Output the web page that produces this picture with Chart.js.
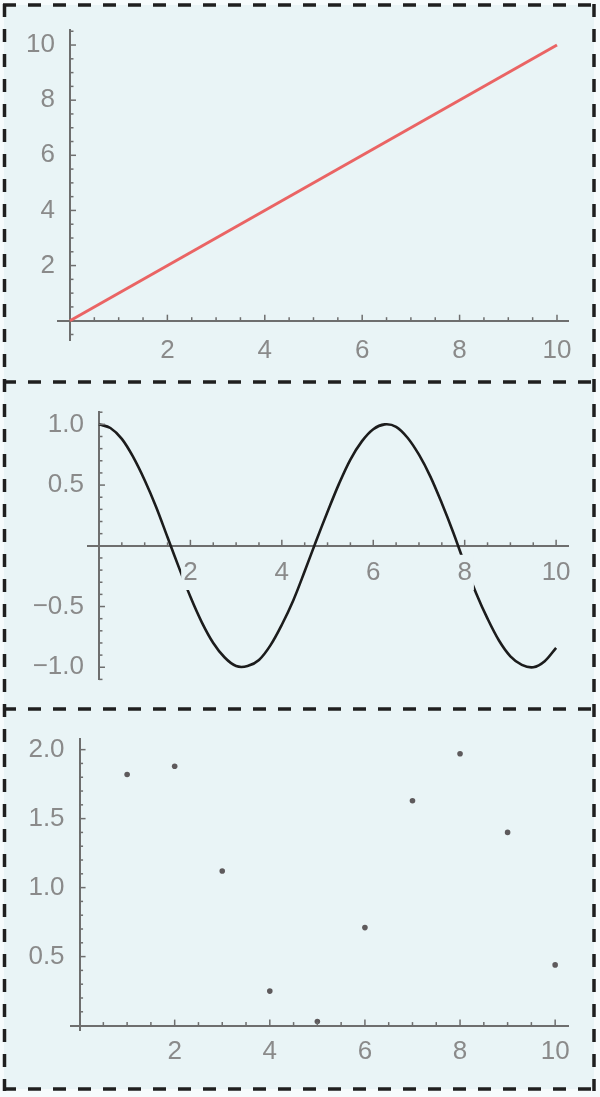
<!DOCTYPE html>
<html>
<head>
<meta charset="utf-8">
<script src="https://cdn.jsdelivr.net/npm/chart.js@4/dist/chart.umd.min.js"></script>
<style>
html, body { margin: 0; padding: 0; background: #f6fbfc; width: 600px; height: 1097px; overflow: hidden; }
#frame { position: absolute; left: 4px; top: 5px; width: 590px; height: 1084px; background: #e9f4f6; }
canvas { position: absolute; left: 0; }
#c1 { top: 0; }
#c2 { top: 382px; }
#c3 { top: 709px; }
svg { position: absolute; left: 0; top: 0; }
</style>
</head>
<body>
<div id="frame"></div>
<canvas id="c1" width="600" height="382"></canvas>
<canvas id="c2" width="600" height="327"></canvas>
<canvas id="c3" width="600" height="388"></canvas>
<svg width="600" height="1097">
  <g stroke="#1f1f1f" stroke-width="3.5" stroke-dasharray="13 12" fill="none">
    <line x1="3" y1="5" x2="596" y2="5"/>
    <line x1="3" y1="382" x2="596" y2="382"/>
    <line x1="3" y1="709" x2="596" y2="709"/>
    <line x1="3" y1="1089" x2="596" y2="1089"/>
    <line x1="4.5" y1="4" x2="4.5" y2="1091"/>
    <line x1="594" y1="4" x2="594" y2="1091"/>
  </g>
</svg>
<script>
// ---------- data ----------
const xTickValues = [2, 4, 6, 8, 10];
const xTickLabels = ['2', '4', '6', '8', '10'];

// panel 1: straight line
const p1YTickValues = [2, 4, 6, 8, 10];
const p1YTickLabels = ['2', '4', '6', '8', '10'];
const p1LineX = [0, 10];
const p1LineY = [0, 10];

// panel 2: wave
const p2YTickValues = [-1, -0.5, 0.5, 1];
const p2YTickLabels = ['\u22121.0', '\u22120.5', '0.5', '1.0'];
const p2CurveX = [0, 0.25, 0.5, 0.75, 1, 1.25, 1.5, 1.75, 2, 2.25, 2.5, 2.75, 3, 3.25, 3.5, 3.75, 4, 4.25, 4.5, 4.75,
                  5, 5.25, 5.5, 5.75, 6, 6.25, 6.5, 6.75, 7, 7.25, 7.5, 7.75, 8, 8.25, 8.5, 8.75, 9, 9.25, 9.5, 9.75, 10];
const p2CurveY = [1.00, 0.97, 0.88, 0.73, 0.54, 0.32, 0.07, -0.18, -0.42, -0.63, -0.80, -0.92, -0.99, -0.99, -0.94, -0.82,
                  -0.65, -0.45, -0.21, 0.04, 0.28, 0.51, 0.71, 0.86, 0.96, 1.00, 0.98, 0.89, 0.75, 0.57, 0.35, 0.11,
                  -0.15, -0.39, -0.60, -0.78, -0.91, -0.98, -1.00, -0.95, -0.84];

// panel 3: points
const p3YTickValues = [0.5, 1, 1.5, 2];
const p3YTickLabels = ['0.5', '1.0', '1.5', '2.0'];
const p3PointX = [1, 2, 3, 4, 5, 6, 7, 8, 9, 10];
const p3PointY = [1.82, 1.88, 1.12, 0.25, 0.03, 0.71, 1.63, 1.97, 1.40, 0.44];

// ---------- style ----------
const BG = '#e9f4f6';
const AXIS = '#6e6e6e';
const LABEL = '#8a8a8a';
const FONT = "'Liberation Sans', Arial, sans-serif";

// inward major/minor tick marks, placed through the chart's scales
const innerTicks = {
  id: 'innerTicks',
  afterDatasetsDraw(chart, args, o) {
    const xs = chart.scales.x, ys = chart.scales.y, ctx = chart.ctx;
    const ax = xs.getPixelForValue(0), ay = ys.getPixelForValue(0);
    ctx.save();
    ctx.strokeStyle = AXIS;
    ctx.lineWidth = 1.5;
    const run = (scale, minor, major, fn) => {
      for (let k = Math.ceil(scale.min / minor); k * minor <= scale.max + 1e-9; k++) {
        if (k === 0) continue;
        const v = k * minor;
        const isMajor = Math.abs(v / major - Math.round(v / major)) < 1e-6;
        fn(scale.getPixelForValue(v), isMajor ? 6 : 3.5);
      }
    };
    run(xs, o.xMinor, o.xMajor, (p, len) => { ctx.beginPath(); ctx.moveTo(p, ay); ctx.lineTo(p, ay - len); ctx.stroke(); });
    run(ys, o.yMinor, o.yMajor, (p, len) => { ctx.beginPath(); ctx.moveTo(ax, p); ctx.lineTo(ax + len, p); ctx.stroke(); });
    ctx.restore();
  }
};

// keep y tick labels a little left of the axis that crosses at x = 0
const yLabelShift = {
  id: 'yLabelShift',
  beforeDraw(chart, args, o) {
    const ys = chart.scales.y;
    const items = ys.getLabelItems(chart.chartArea);
    if (items._shifted) return;
    items.forEach(it => { it.options.translation[0] -= o.shift; });
    items._shifted = true;
  }
};

function axis(tickValues, tickLabels, range, pos, padding, extra) {
  return {
    type: 'linear',
    min: range[0],
    max: range[1],
    position: pos,
    afterBuildTicks: s => { s.ticks = tickValues.map(v => ({ value: v })); },
    afterFit: s => { if (s.isHorizontal()) s.height = 0; else s.width = 0; },
    grid: { display: true, drawOnChartArea: false, drawTicks: false },
    border: { display: true, color: AXIS, width: 2 },
    ticks: Object.assign({
      color: LABEL,
      font: { family: FONT, size: 26 },
      padding: padding,
      maxRotation: 0,
      minRotation: 0,
      autoSkip: false,
      callback: (v, i) => tickLabels[i]
    }, extra || {})
  };
}

function baseOptions(padding, tickOpts, scales) {
  return {
    responsive: false,
    animation: false,
    devicePixelRatio: 1,
    layout: { padding: padding },
    plugins: {
      legend: { display: false },
      tooltip: { enabled: false },
      innerTicks: tickOpts,
      yLabelShift: { shift: 15 }
    },
    scales: scales
  };
}

// panel 1
new Chart(document.getElementById('c1'), {
  type: 'scatter',
  data: { datasets: [{
    data: p1LineX.map((x, i) => ({ x: x, y: p1LineY[i] })),
    showLine: true, borderColor: '#ea6464', borderWidth: 3, pointRadius: 0
  }] },
  options: baseOptions({ left: 58, right: 32, top: 25, bottom: 42 },
    { xMinor: 0.5, xMajor: 2, yMinor: 0.5, yMajor: 2 },
    {
      x: axis(xTickValues, xTickLabels, [-0.246, 10.226], { y: 0 }, 15),
      y: axis(p1YTickValues, p1YTickLabels, [-0.70, 10.56], { x: 0 }, 14)
    }),
  plugins: [innerTicks, yLabelShift]
});

// panel 2
new Chart(document.getElementById('c2'), {
  type: 'scatter',
  data: { datasets: [{
    data: p2CurveX.map((x, i) => ({ x: x, y: p2CurveY[i] })),
    showLine: true, borderColor: '#1c1c1c', borderWidth: 2.6, pointRadius: 0,
    tension: 0.35
  }] },
  options: baseOptions({ left: 88, right: 32, top: 16, bottom: 17 },
    { xMinor: 0.5, xMajor: 2, yMinor: 0.1, yMajor: 0.5 },
    {
      x: axis(xTickValues, xTickLabels, [-0.24, 10.26], { y: 0 }, 11,
        { showLabelBackdrop: true, backdropColor: BG, backdropPadding: 2, z: 1 }),
      y: axis(p2YTickValues, p2YTickLabels, [-1.1, 1.105], { x: 0 }, 14)
    }),
  plugins: [innerTicks, yLabelShift]
});

// panel 3
new Chart(document.getElementById('c3'), {
  type: 'scatter',
  data: { datasets: [{
    data: p3PointX.map((x, i) => ({ x: x, y: p3PointY[i] })),
    backgroundColor: '#5e5a5c', borderWidth: 0, pointRadius: 2.8
  }] },
  options: baseOptions({ left: 71, right: 32, top: 15, bottom: 67 },
    { xMinor: 0.5, xMajor: 2, yMinor: 0.1, yMajor: 0.5 },
    {
      x: axis(xTickValues, xTickLabels, [-0.18, 10.27], { y: 0 }, 11),
      y: axis(p3YTickValues, p3YTickLabels, [-0.032, 2.08], { x: 0 }, 14)
    }),
  plugins: [innerTicks, yLabelShift]
});
</script>
</body>
</html>
